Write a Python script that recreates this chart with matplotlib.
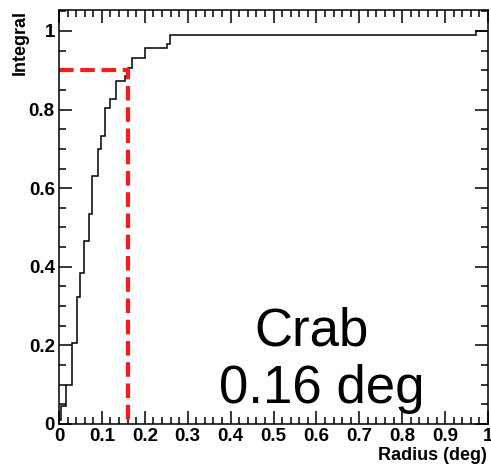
import matplotlib.pyplot as plt
from matplotlib.ticker import MultipleLocator

# Cumulative radial profile (step histogram)
edges = [0, 0.004, 0.016, 0.030, 0.041, 0.049, 0.059, 0.070, 0.077, 0.091, 0.099,
         0.107, 0.119, 0.133, 0.153, 0.161, 0.169, 0.200, 0.251, 0.259, 0.972, 1.0]
integral = [0.01, 0.045, 0.10, 0.206, 0.322, 0.383, 0.466, 0.535, 0.630, 0.70, 0.734,
            0.805, 0.827, 0.874, 0.885, 0.905, 0.932, 0.956, 0.968, 0.989, 1.0]

# 90% containment marker
r90 = 0.161
frac90 = 0.90

x_ticks = [0, 0.1, 0.2, 0.3, 0.4, 0.5, 0.6, 0.7, 0.8, 0.9, 1.0]
x_labels = ['0', '0.1', '0.2', '0.3', '0.4', '0.5', '0.6', '0.7', '0.8', '0.9', '1']
y_ticks = [0, 0.2, 0.4, 0.6, 0.8, 1.0]
y_labels = ['0', '0.2', '0.4', '0.6', '0.8', '1']

source = 'Crab'
label90 = '0.16 deg'

W, H = 491, 472
plt.rcParams['font.family'] = ['Liberation Sans', 'DejaVu Sans']

fig = plt.figure(figsize=(W / 100, H / 100), dpi=100)
ax = fig.add_axes([59 / W, 1 - 424 / H, 429 / W, 414 / H])

ax.stairs(integral, edges, baseline=None, color='black', lw=1.1)
ax.plot([0, r90, r90], [frac90, frac90, 0], color='#ff1a1a', lw=3,
        dashes=(3.5, 1.6))

ax.set_xlim(0, 1)
ax.set_ylim(0, 1.0534)
ax.set_xticks(x_ticks)
ax.set_xticklabels(x_labels)
ax.set_yticks(y_ticks)
ax.set_yticklabels(y_labels)
ax.xaxis.set_minor_locator(MultipleLocator(0.02))
ax.yaxis.set_minor_locator(MultipleLocator(0.05))

ax.tick_params(which='both', direction='in', top=True, right=True, width=1.1)
ax.tick_params(which='major', length=9.4)
ax.tick_params(which='minor', length=5)
ax.tick_params(axis='x', pad=3, labelsize=13.5)
ax.tick_params(axis='y', pad=3, labelsize=13.5)
for lab in ax.get_xticklabels() + ax.get_yticklabels():
    lab.set_fontweight('bold')
for sp in ax.spines.values():
    sp.set_linewidth(1.1)

fig.text(20 / W, 1 - 10 / H, 'Integral', rotation=90, ha='center', va='top',
         fontsize=13, fontweight='bold')
fig.text(487 / W, 1 - 456 / H, 'Radius (deg)', ha='right', va='center',
         fontsize=13, fontweight='bold')

fig.text(312 / W, 1 - 345 / H, source, ha='center', va='baseline', fontsize=38)
fig.text(322 / W, 1 - 403 / H, label90, ha='center', va='baseline', fontsize=38)

fig.savefig('out.png', dpi=100)
